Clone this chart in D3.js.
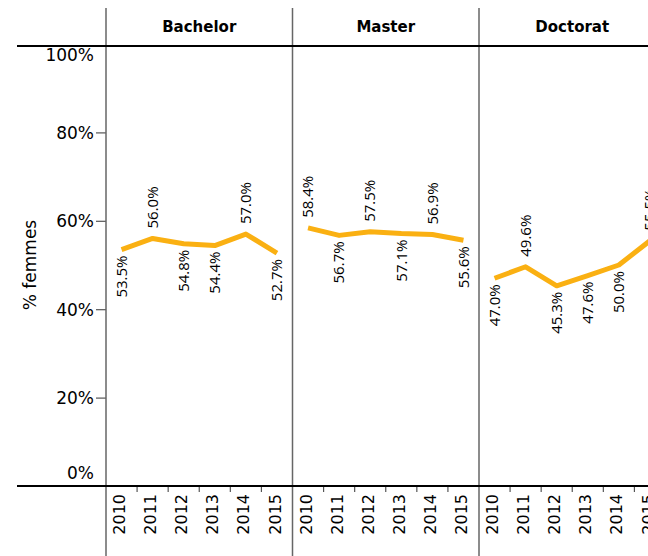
<!DOCTYPE html>
<html>
<head>
<meta charset="utf-8">
<script src="https://cdn.jsdelivr.net/npm/d3@7"></script>
<style>
  body { margin: 0; background: #fff; }
  text { font-family: "DejaVu Sans", sans-serif; fill: #000; }
</style>
</head>
<body>
<div id="chart"></div>
<script>
const years = ["2010", "2011", "2012", "2013", "2014", "2015"];
const degrees = ["Bachelor", "Master", "Doctorat"];
const bachelor = [53.5, 56.0, 54.8, 54.4, 57.0, 52.7];
const master = [58.4, 56.7, 57.5, 57.1, 56.9, 55.6];
const doctorat = [47.0, 49.6, 45.3, 47.6, 50.0, 55.5];
// which side of the line each value label sits
const bachelorSide = ["below", "above", "below", "below", "above", "below"];
const masterSide = ["above", "below", "above", "below", "above", "below"];
const doctoratSide = ["below", "above", "below", "below", "below", "above"];
const yTicks = [0, 20, 40, 60, 80, 100];

const series = [
    { name: "Bachelor", values: bachelor, side: bachelorSide },
    { name: "Master", values: master, side: masterSide },
    { name: "Doctorat", values: doctorat, side: doctoratSide }
];

const width = 648, height = 556;
const plotLeft = 106, panelW = 186.5;
const plotTop = 44, plotBottom = 486;

const svg = d3.select("#chart").append("svg")
    .attr("width", width)
    .attr("height", height);

const fx = d3.scaleBand()
    .domain(degrees)
    .range([plotLeft, plotLeft + panelW * degrees.length]);

const x = d3.scaleBand()
    .domain(years)
    .range([0, fx.bandwidth()]);

const y = d3.scaleLinear()
    .domain([0, 100])
    .range([plotBottom, plotTop]);

// y axis
const yAxis = svg.append("g")
    .attr("transform", `translate(${plotLeft},0)`)
    .call(d3.axisLeft(y)
        .tickValues(yTicks)
        .tickFormat(d => d + "%")
        .tickSize(10)
        .tickPadding(2));
yAxis.select(".domain").remove();
yAxis.selectAll(".tick line")
    .attr("stroke", "#555")
    .attr("stroke-width", 1.2)
    .attr("display", d => (d === 0 || d === 100) ? "none" : null);
yAxis.selectAll(".tick text")
    .style("font-size", "17px")
    .attr("dy", d => d === 100 ? "0.95em" : d === 0 ? "-0.45em" : "0.35em");

svg.append("text")
    .attr("transform", `translate(36,${(plotTop + plotBottom) / 2}) rotate(-90)`)
    .attr("text-anchor", "middle")
    .style("font-size", "17px")
    .text("% femmes");

const line = d3.line()
    .x((d, i) => x(years[i]) + x.bandwidth() / 2)
    .y(d => y(d));

const panel = svg.selectAll(".panel")
    .data(series)
    .join("g")
    .attr("class", "panel")
    .attr("transform", d => `translate(${fx(d.name)},0)`);

// year ticks at band boundaries
panel.each(function() {
    const g = d3.select(this);
    g.selectAll(".xtick")
        .data(years.slice(1))
        .join("line")
        .attr("x1", d => x(d))
        .attr("x2", d => x(d))
        .attr("y1", plotBottom)
        .attr("y2", plotBottom + 6)
        .attr("stroke", "#555")
        .attr("stroke-width", 1.2);
    g.selectAll(".year")
        .data(years)
        .join("text")
        .attr("transform", d => `translate(${x(d) + x.bandwidth() / 2 - 2},${plotBottom + 8}) rotate(-90)`)
        .attr("text-anchor", "end")
        .attr("dy", "0.35em")
        .style("font-size", "16px")
        .text(d => d);
});

panel.append("text")
    .attr("x", fx.bandwidth() / 2)
    .attr("y", 32)
    .attr("text-anchor", "middle")
    .style("font-size", "15px")
    .style("font-weight", "bold")
    .text(d => d.name);

panel.append("path")
    .attr("d", d => line(d.values))
    .attr("fill", "none")
    .attr("stroke", "#fab012")
    .attr("stroke-width", 5)
    .attr("stroke-linejoin", "round");

panel.each(function(s) {
    d3.select(this).selectAll(".val")
        .data(s.values)
        .join("text")
        .attr("transform", (d, i) => {
            const px = x(years[i]) + x.bandwidth() / 2;
            const py = s.side[i] === "above" ? y(d) - 10 : y(d) + 6;
            return `translate(${px},${py}) rotate(-90)`;
        })
        .attr("text-anchor", (d, i) => s.side[i] === "above" ? "start" : "end")
        .attr("dy", "0.35em")
        .style("font-family", "'Open Sans', sans-serif")
        .style("font-size", "15px")
        .text(d => d.toFixed(1) + "%");
});

// frame lines
svg.selectAll(".sep")
    .data(degrees)
    .join("line")
    .attr("x1", d => fx(d))
    .attr("x2", d => fx(d))
    .attr("y1", 8)
    .attr("y2", height)
    .attr("stroke", "#666")
    .attr("stroke-width", 1.5);

svg.selectAll(".hline")
    .data([46, plotBottom])
    .join("line")
    .attr("x1", 17)
    .attr("x2", width)
    .attr("y1", d => d)
    .attr("y2", d => d)
    .attr("stroke", "#000")
    .attr("stroke-width", 2);
</script>
</body>
</html>
